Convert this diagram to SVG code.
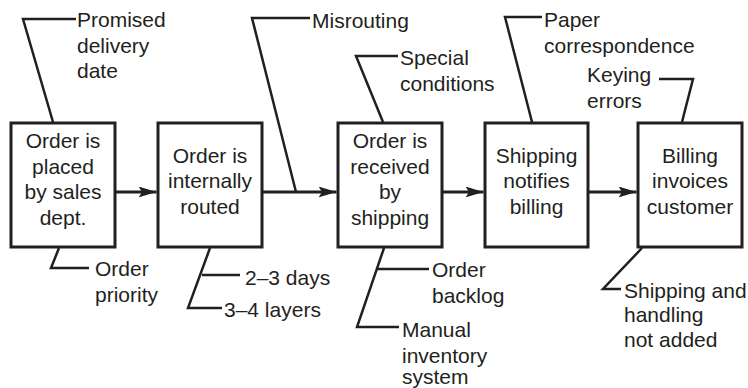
<svg xmlns="http://www.w3.org/2000/svg" width="748" height="388" viewBox="0 0 748 388">
<style>
.box{fill:#fff;stroke:#231f20;stroke-width:3}
.t{font-family:"Liberation Sans",Arial,sans-serif;font-size:21px;fill:#231f20}
.c{text-anchor:middle}
.ld{fill:none;stroke:#231f20;stroke-width:2.5;stroke-linejoin:miter}
.ar{fill:none;stroke:#231f20;stroke-width:3}
</style>
<defs>
<marker id="ah" markerUnits="userSpaceOnUse" markerWidth="19" markerHeight="12" refX="18" refY="5.5" orient="auto">
<path d="M0,0 L18,5.5 L0,11 L3.5,5.5 z" fill="#231f20"/>
</marker>
</defs>
<rect width="748" height="388" fill="#fff"/>
<g id="connectors">
<line class="ar" x1="115" y1="192" x2="156.5" y2="192" marker-end="url(#ah)"/>
<line class="ar" x1="262" y1="192" x2="336.5" y2="192" marker-end="url(#ah)"/>
<line class="ar" x1="442" y1="192" x2="483.5" y2="192" marker-end="url(#ah)"/>
<line class="ar" x1="588" y1="192" x2="636.5" y2="192" marker-end="url(#ah)"/>
</g>
<g id="node1">
<rect class="box" x="11" y="123" width="104" height="124"/>
<text class="t c" x="63" y="148">Order is</text>
<text class="t c" x="63" y="174">placed</text>
<text class="t c" x="63" y="199">by sales</text>
<text class="t c" x="63" y="225">dept.</text>
</g>
<g id="node2">
<rect class="box" x="158" y="123" width="104" height="124"/>
<text class="t c" x="210" y="162.5">Order is</text>
<text class="t c" x="210" y="188">internally</text>
<text class="t c" x="210" y="213.5">routed</text>
</g>
<g id="node3">
<rect class="box" x="338" y="123" width="104" height="124"/>
<text class="t c" x="390" y="148">Order is</text>
<text class="t c" x="390" y="174">received</text>
<text class="t c" x="390" y="199">by</text>
<text class="t c" x="390" y="225">shipping</text>
</g>
<g id="node4">
<rect class="box" x="485" y="123" width="103" height="124"/>
<text class="t c" x="536.5" y="162.5">Shipping</text>
<text class="t c" x="536.5" y="188">notifies</text>
<text class="t c" x="536.5" y="213.5">billing</text>
</g>
<g id="node5">
<rect class="box" x="638" y="123" width="104" height="124"/>
<text class="t c" x="690" y="162.5">Billing</text>
<text class="t c" x="690" y="188">invoices</text>
<text class="t c" x="690" y="213.5">customer</text>
</g>
<g id="cause-promised">
<polyline class="ld" points="76,19 23,19 53,122"/>
<text class="t" x="77" y="27">Promised</text>
<text class="t" x="77" y="53">delivery</text>
<text class="t" x="77" y="78">date</text>
</g>
<g id="cause-misrouting">
<polyline class="ld" points="310,18 252,18 296,192"/>
<text class="t" x="312" y="28">Misrouting</text>
</g>
<g id="cause-special">
<polyline class="ld" points="398,56 356,56 383,122"/>
<text class="t" x="400" y="65">Special</text>
<text class="t" x="400" y="91">conditions</text>
</g>
<g id="cause-paper">
<polyline class="ld" points="542,17 505,17 532,122"/>
<text class="t" x="544" y="27">Paper</text>
<text class="t" x="544" y="53">correspondence</text>
</g>
<g id="cause-keying">
<polyline class="ld" points="659,79 693,79 682,122"/>
<text class="t" x="587" y="82">Keying</text>
<text class="t" x="587" y="108">errors</text>
</g>
<g id="cause-priority">
<polyline class="ld" points="59,248 51,268 89,268"/>
<text class="t" x="95" y="276">Order</text>
<text class="t" x="95" y="302">priority</text>
</g>
<g id="cause-routing">
<polyline class="ld" points="210,248 188,308 222,308"/>
<line class="ld" x1="202" y1="275" x2="240" y2="275"/>
<text class="t" x="245" y="285">2–3 days</text>
<text class="t" x="224" y="317">3–4 layers</text>
</g>
<g id="cause-shipping">
<polyline class="ld" points="384,248 357,327 399,327"/>
<line class="ld" x1="377" y1="269" x2="429" y2="269"/>
<text class="t" x="432" y="277">Order</text>
<text class="t" x="432" y="303">backlog</text>
<text class="t" x="402" y="337">Manual</text>
<text class="t" x="402" y="363">inventory</text>
<text class="t" x="402" y="384">system</text>
</g>
<g id="cause-billing">
<polyline class="ld" points="642,248 603,289 621,289"/>
<text class="t" x="624" y="298">Shipping and</text>
<text class="t" x="624" y="322">handling</text>
<text class="t" x="624" y="347">not added</text>
</g>
</svg>
